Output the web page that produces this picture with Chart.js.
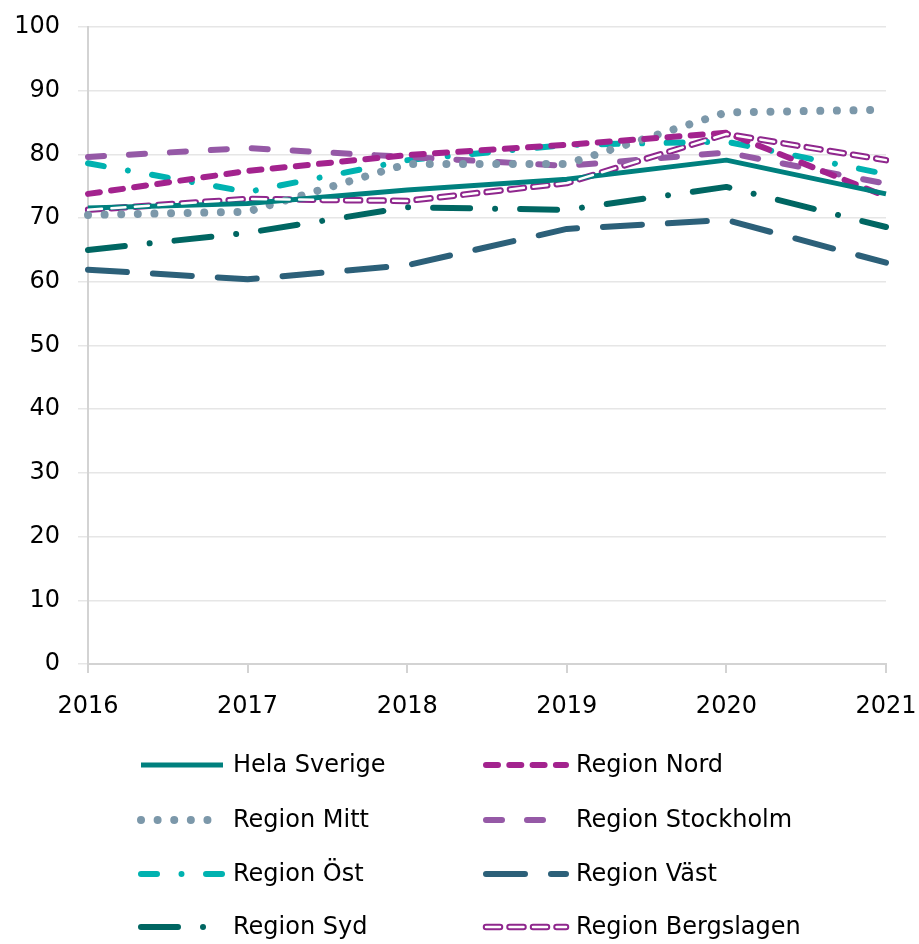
<!DOCTYPE html>
<html>
<head>
<meta charset="utf-8">
<script src="https://cdn.jsdelivr.net/npm/chart.js@4/dist/chart.umd.min.js"></script>
<style>
  html, body { margin: 0; padding: 0; background: #ffffff; }
  #wrap { width: 919px; height: 944px; }
</style>
</head>
<body>
<div id="wrap"><canvas id="chart" width="919" height="944"></canvas></div>
<script>
// År och värden per region
const years = ['2016', '2017', '2018', '2019', '2020', '2021'];

const helaSverige      = [71.6, 72.3, 74.4, 76.1, 79.1, 73.8];
const regionNord       = [73.8, 77.4, 79.9, 81.5, 83.4, 73.4];
const regionMitt       = [70.5, 71.0, 78.5, 78.5, 86.6, 87.0];
const regionStockholm  = [79.6, 81.0, 79.6, 78.2, 80.3, 75.4];
const regionOst        = [78.6, 74.1, 79.1, 81.5, 82.0, 76.9];
const regionVast       = [61.9, 60.4, 62.6, 68.3, 69.7, 63.0];
const regionSyd        = [65.0, 67.7, 71.7, 71.3, 74.9, 68.6];
const regionBergslagen = [71.3, 73.0, 72.7, 75.5, 83.2, 79.1];

const yTicks = [0, 10, 20, 30, 40, 50, 60, 70, 80, 90, 100];

const FONT = "'DejaVu Sans', sans-serif";

function line(label, data, color, dash, extra) {
    return Object.assign({
        label: label,
        data: data,
        borderColor: color,
        backgroundColor: color,
        borderWidth: 6,
        borderDash: dash,
        borderCapStyle: 'round',
        borderJoinStyle: 'round',
        pointRadius: 0,
        pointHoverRadius: 0,
        tension: 0,
        fill: false
    }, extra || {});
}

const datasets = [
    line('Hela Sverige', helaSverige, '#00807e', [], { borderCapStyle: 'butt', borderWidth: 5 }),
    line('Region Nord', regionNord, '#a3238e', [12, 11.3]),
    line('Region Mitt', regionMitt, '#7c98aa', [0.01, 16.6], { borderWidth: 8 }),
    line('Region Stockholm', regionStockholm, '#9559a6', [16, 25]),
    line('Region Öst', regionOst, '#00b2b0', [16, 24.5, 0.01, 24.5]),
    line('Region Väst', regionVast, '#2c6079', [39, 26]),
    line('Region Syd', regionSyd, '#006662', [37, 25, 0.01, 25]),
    line('Region Bergslagen', regionBergslagen, '#8f278d', [14, 9.5], { borderWidth: 6.5 }),
    // vit mittlinje som ger Bergslagen dess dubbla kontur
    line('_inner', regionBergslagen, '#ffffff', [14, 9.5], { borderWidth: 2.5, order: -1 })
];

// legendens ordning: två kolumner, fyra rader
const legendOrder = [
    ['Hela Sverige', 'Region Nord'],
    ['Region Mitt', 'Region Stockholm'],
    ['Region Öst', 'Region Väst'],
    ['Region Syd', 'Region Bergslagen']
];

function strokeSample(ctx, ds, x0, x1, y) {
    ctx.save();
    ctx.strokeStyle = ds.borderColor;
    ctx.lineWidth = ds.borderWidth;
    ctx.lineCap = ds.borderCapStyle;
    ctx.setLineDash(ds.borderDash);
    ctx.beginPath();
    ctx.moveTo(x0, y);
    ctx.lineTo(x1, y);
    ctx.stroke();
    ctx.restore();
}

const legendPlugin = {
    id: 'gridLegend',
    afterDraw(chart) {
        const ctx = chart.ctx;
        const colX = [{ s: 141, e: 223, t: 233 }, { s: 486, e: 566, t: 576 }];
        const rowY = [765, 820, 874, 927];
        const byLabel = {};
        chart.data.datasets.forEach(d => { byLabel[d.label] = d; });
        legendOrder.forEach((row, r) => {
            row.forEach((name, c) => {
                const ds = byLabel[name];
                const col = colX[c];
                const end = name === 'Region Mitt' ? 208 : col.e;
                strokeSample(ctx, ds, col.s, end, rowY[r]);
                if (name === 'Region Bergslagen') {
                    strokeSample(ctx, byLabel['_inner'], col.s, end, rowY[r]);
                }
                ctx.save();
                ctx.fillStyle = '#000000';
                ctx.font = '24px ' + FONT;
                ctx.textBaseline = 'middle';
                ctx.textAlign = 'left';
                ctx.fillText(name, col.t, rowY[r] + 1);
                ctx.restore();
            });
        });
    }
};

new Chart(document.getElementById('chart'), {
    type: 'line',
    data: { labels: years, datasets: datasets },
    plugins: [legendPlugin],
    options: {
        responsive: false,
        animation: false,
        events: [],
        layout: { padding: { left: 0, right: 33, top: 27, bottom: 220 } },
        plugins: {
            legend: { display: false },
            tooltip: { enabled: false }
        },
        scales: {
            x: {
                type: 'category',
                offset: false,
                afterFit: s => {
                    s.height = 60;
                    s.paddingLeft = 0;
                    s.paddingRight = 0;
                },
                border: { display: true, color: '#d3d3d3', width: 2 },
                grid: {
                    drawOnChartArea: false,
                    drawTicks: true,
                    tickLength: 9,
                    color: '#d3d3d3',
                    lineWidth: 2
                },
                ticks: {
                    color: '#000000',
                    padding: 19,
                    maxRotation: 0,
                    font: { family: FONT, size: 24 }
                }
            },
            y: {
                min: 0,
                max: 100,
                afterFit: s => {
                    s.width = 88;
                    s.paddingTop = 0;
                    s.paddingBottom = 0;
                },
                afterBuildTicks: s => { s.ticks = yTicks.map(v => ({ value: v })); },
                border: { display: true, color: '#d3d3d3', width: 2 },
                grid: {
                    drawTicks: true,
                    tickLength: 10,
                    color: '#e6e6e6',
                    lineWidth: 1.5
                },
                ticks: {
                    color: '#000000',
                    padding: 18,
                    font: { family: FONT, size: 24 }
                }
            }
        }
    }
});
</script>
</body>
</html>
